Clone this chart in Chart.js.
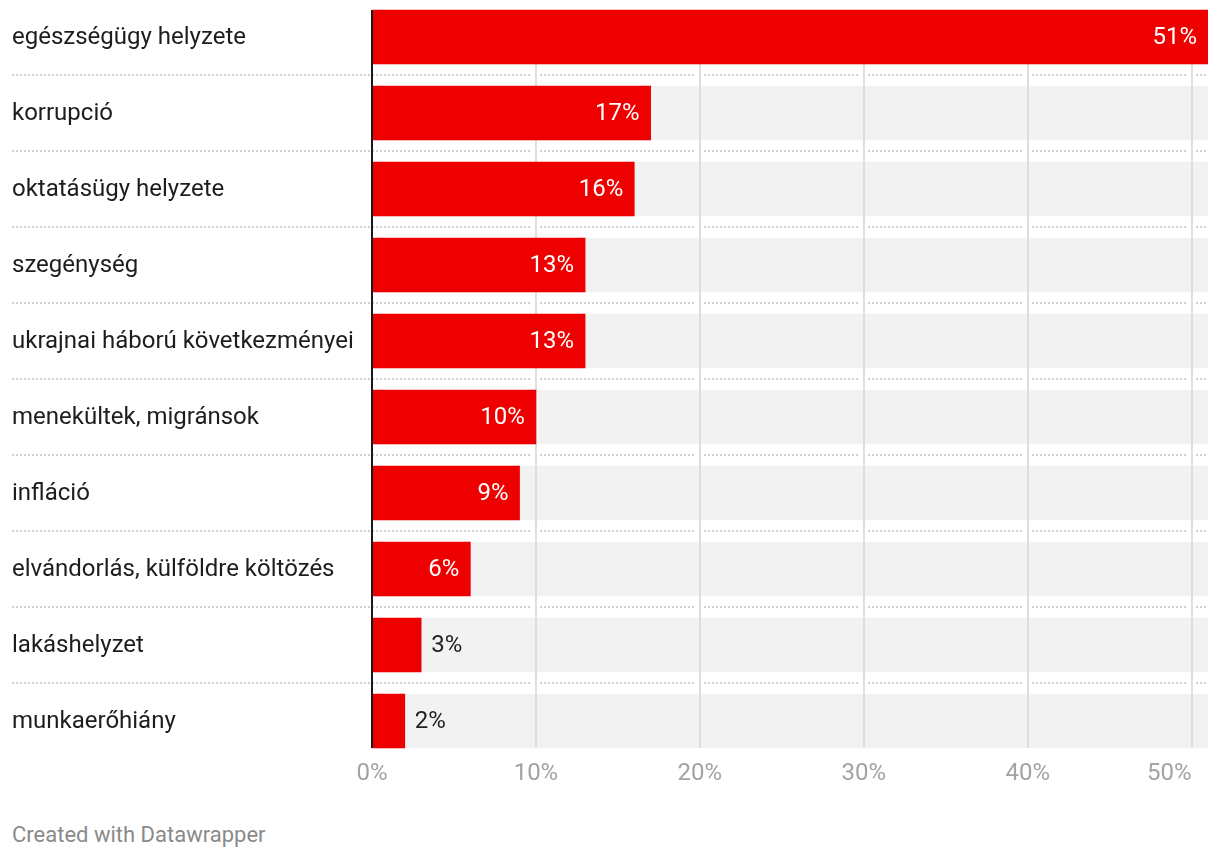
<!DOCTYPE html>
<html lang="hu">
<head>
<meta charset="utf-8">
<script src="https://cdn.jsdelivr.net/npm/chart.js@4/dist/chart.umd.min.js"></script>
<style>
  html, body { margin: 0; padding: 0; background: #fff; }
  body { width: 1220px; height: 860px; position: relative; overflow: hidden; font-family: Roboto, sans-serif; }
  #wrap { position: absolute; left: 0; top: -1px; width: 1220px; height: 800px; }
  #credit { position: absolute; left: 12px; top: 822px; font-size: 22px; color: #8a8a8a; }
</style>
</head>
<body>
<div id="wrap"><canvas id="graphique"></canvas></div>
<div id="credit">Created with Datawrapper</div>
<script>
// Catégories (problèmes) et valeurs en %
const categories = [
  "egészségügy helyzete",
  "korrupció",
  "oktatásügy helyzete",
  "szegénység",
  "ukrajnai háború következményei",
  "menekültek, migránsok",
  "infláció",
  "elvándorlás, külföldre költözés",
  "lakáshelyzet",
  "munkaerőhiány"
];
const valeurs = [51, 17, 16, 13, 13, 10, 9, 6, 3, 2];
const maxAxe = 51;
const ticksAxe = [0, 10, 20, 30, 40, 50];
const fond = categories.map(() => maxAxe);

const ROUGE = "#ee0000";
const GRIS = "#f2f2f2";

// milieu de l'espace entre deux barres
function ySeparateur(bars, i) {
  return Math.round((bars[i].y + bars[i].height / 2 + bars[i + 1].y - bars[i + 1].height / 2) / 2);
}

// Grille + séparateurs pointillés, dessinés juste après les barres grises
const grillePlugin = {
  id: "grille",
  afterDatasetDraw(chart, args) {
    if (args.index !== 1) return;
    const ctx = chart.ctx;
    const x = chart.scales.x;
    const bars = args.meta.data;
    const haut = bars[0].y - bars[0].height / 2;
    const bas = bars[bars.length - 1].y + bars[bars.length - 1].height / 2;
    ctx.save();
    // séparateurs pointillés
    ctx.strokeStyle = "#cfcfcf";
    ctx.lineWidth = 2;
    ctx.setLineDash([2, 2]);
    for (let i = 0; i < bars.length - 1; i++) {
      const y = ySeparateur(bars, i);
      ctx.beginPath();
      ctx.moveTo(12, y);
      ctx.lineTo(chart.chartArea.right, y);
      ctx.stroke();
    }
    ctx.setLineDash([]);
    // lignes verticales
    for (let t of ticksAxe) {
      if (t === 0) continue;
      const px = Math.round(x.getPixelForValue(t));
      ctx.fillStyle = "#fff";
      for (let i = 0; i < bars.length - 1; i++) {
        ctx.fillRect(px - 4, ySeparateur(bars, i) - 2, 8, 4);
      }
      ctx.fillStyle = "#dedede";
      ctx.fillRect(px - 1, haut, 2, bas - haut);
    }
    ctx.restore();
  },
  afterDatasetsDraw(chart) {
    const ctx = chart.ctx;
    const x = chart.scales.x;
    const y = chart.scales.y;
    const bars = chart.getDatasetMeta(0).data;
    const haut = bars[0].y - bars[0].height / 2;
    const bas = bars[bars.length - 1].y + bars[bars.length - 1].height / 2;
    const x0 = x.getPixelForValue(0);
    ctx.save();
    // ligne zéro
    ctx.fillStyle = "#1a1a1a";
    ctx.fillRect(x0 - 1, haut, 2, bas - haut);
    ctx.textBaseline = "middle";
    // libellés des catégories
    ctx.font = "24px Roboto";
    ctx.fillStyle = "#1d1d1d";
    ctx.textAlign = "left";
    for (let i = 0; i < categories.length; i++) {
      ctx.fillText(categories[i], 12, y.getPixelForValue(i) + 1);
    }
    // étiquettes de valeurs
    for (let i = 0; i < bars.length; i++) {
      const txt = valeurs[i] + "%";
      const w = ctx.measureText(txt).width;
      const largeur = bars[i].x - x0;
      if (w + 22 < largeur) {
        ctx.fillStyle = "#fff";
        ctx.textAlign = "right";
        ctx.fillText(txt, bars[i].x - 11, bars[i].y + 1);
      } else {
        ctx.fillStyle = "#222";
        ctx.textAlign = "left";
        ctx.fillText(txt, bars[i].x + 10, bars[i].y + 1);
      }
    }
    // graduations de l'axe x
    ctx.fillStyle = "#a3a3a3";
    for (let j = 0; j < ticksAxe.length; j++) {
      const px = x.getPixelForValue(ticksAxe[j]);
      ctx.textAlign = j === ticksAxe.length - 1 ? "right" : "center";
      ctx.fillText(ticksAxe[j] + "%", px, 775);
    }
    ctx.restore();
  }
};

const data = {
  labels: categories,
  datasets: [
    { data: valeurs, backgroundColor: ROUGE, barThickness: 54, grouped: false },
    { data: fond, backgroundColor: GRIS, barThickness: 54, grouped: false }
  ]
};

const config = {
  type: "bar",
  data: data,
  options: {
    indexAxis: "y",
    responsive: false,
    animation: false,
    events: [],
    layout: { padding: { left: 372, right: 12, top: 0, bottom: 40 } },
    plugins: { legend: { display: false }, tooltip: { enabled: false } },
    scales: {
      x: { display: false, min: 0, max: maxAxe },
      y: { display: false }
    }
  },
  plugins: [grillePlugin]
};

const canvas = document.querySelector("#graphique");
canvas.width = 1220;
canvas.height = 800;
new Chart(canvas, config);
</script>
</body>
</html>
